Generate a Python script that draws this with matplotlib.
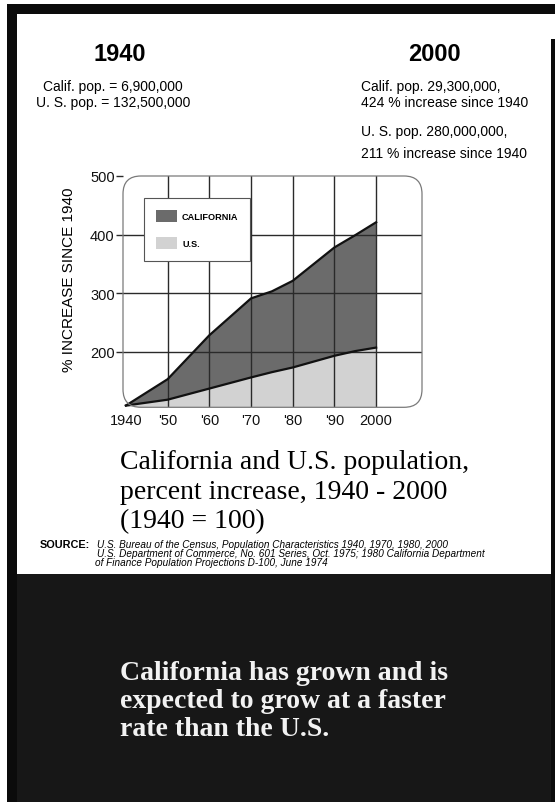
import matplotlib
matplotlib.use('Agg')
import matplotlib.pyplot as plt
from matplotlib.patches import Rectangle, FancyBboxPatch

# values (percent, 1940 = 100)
years = [1940, 1950, 1960, 1970, 1975, 1980, 1990, 1995, 2000]
calif = [108, 153, 228, 291, 303, 321, 378, 399, 421]
us = [108, 118, 137, 156, 165, 173, 193, 201, 207]

tick_years = [1940, 1950, 1960, 1970, 1980, 1990, 2000]
tick_labels = ['1940', "'50", "'60", "'70", "'80", "'90", '2000']
y_ticks = [200, 300, 400, 500]

header_left = ['Calif. pop. = 6,900,000', 'U. S. pop. = 132,500,000']
header_right = ['Calif. pop. 29,300,000,', '424 % increase since 1940',
                'U. S. pop. 280,000,000,', '211 % increase since 1940']
caption = ['California and U.S. population,', 'percent increase, 1940 - 2000', '(1940 = 100)']
source = ['U.S. Bureau of the Census, Population Characteristics 1940, 1970, 1980, 2000',
          'U.S. Department of Commerce, No. 601 Series, Oct. 1975; 1980 California Department',
          'of Finance Population Projections D-100, June 1974']
message = ['California has grown and is', 'expected to grow at a faster', 'rate than the U.S.']

W, H = 555, 803
fig = plt.figure(figsize=(W / 100, H / 100), dpi=100)
fig.patch.set_facecolor('white')


def fx(x):
    return x / W


def fy(y):
    return 1 - y / H


def rect(x0, y0, x1, y1, color):
    fig.add_artist(Rectangle((fx(x0), fy(y1)), fx(x1) - fx(x0), fy(y0) - fy(y1),
                             transform=fig.transFigure, facecolor=color,
                             edgecolor='none', zorder=-5))


# frame, white panel and dark lower block
rect(7, 5, 555, 803, '#0b0b0b')
rect(17, 15, 551, 575, 'white')
rect(551, 15, 555, 40, 'white')
rect(17, 575, 551, 803, '#171717')

sans = 'Liberation Sans'
serif = 'Liberation Serif'

# header
fig.text(fx(120), fy(61), '1940', ha='center', va='baseline', fontsize=17,
         weight='bold', family=sans)
fig.text(fx(434), fy(61), '2000', ha='center', va='baseline', fontsize=17,
         weight='bold', family=sans)
for txt, yb in zip(header_left, [91, 107]):
    fig.text(fx(113), fy(yb), txt, ha='center', va='baseline', fontsize=10, family=sans)
for txt, yb in zip(header_right, [91, 107, 136, 158]):
    fig.text(fx(361), fy(yb), txt, ha='left', va='baseline', fontsize=10, family=sans)

# chart
ax = fig.add_axes([fx(123), fy(408.3), fx(422) - fx(123), fy(177) - fy(408.3)])
ax.patch.set_visible(False)
ax.fill_between(years, 105, us, facecolor='#d2d2d2', edgecolor='none', label='U.S.', zorder=1)
ax.fill_between(years, us, calif, facecolor='#6b6b6b', edgecolor='none', label='CALIFORNIA', zorder=1)
ax.plot(years, calif, color='#111111', lw=1.6, zorder=3)
ax.plot(years, us, color='#111111', lw=1.6, zorder=3)

ax.set_xlim(1939.3, 2011)
ax.set_ylim(105, 500)
ax.set_xticks(tick_years)
ax.set_xticklabels(tick_labels)
ax.set_yticks(y_ticks)
for s in ax.spines.values():
    s.set_visible(False)
ax.set_axisbelow(False)
ax.grid(True, color='#2a2a2a', lw=1.0)
ax.get_xgridlines()[0].set_visible(False)
ax.get_ygridlines()[-1].set_visible(False)
ax.tick_params(axis='x', length=0, pad=4, labelsize=10.5, colors='#111111')
ax.tick_params(axis='y', length=5, width=1, color='#2a2a2a', pad=1, labelsize=10.5,
               labelcolor='#111111')
for lab in ax.get_xticklabels() + ax.get_yticklabels():
    lab.set_family(sans)

box = FancyBboxPatch((0, 0), 1, 1, boxstyle='round,pad=0,rounding_size=0.06',
                     mutation_aspect=299 / 231.3, transform=ax.transAxes,
                     facecolor='none', edgecolor='#7a7a7a', lw=0.9, clip_on=False, zorder=4)
ax.add_patch(box)

handles, labels = ax.get_legend_handles_labels()
leg = ax.legend(handles[::-1], labels[::-1], loc='upper left',
                bbox_to_anchor=(fx(144), fy(199)), bbox_transform=fig.transFigure,
                borderaxespad=0, fancybox=False, framealpha=1, edgecolor='#555555',
                handlelength=2.3, handleheight=1.65, handletextpad=0.55,
                labelspacing=1.65, borderpad=1.3,
                prop={'family': sans, 'weight': 'bold', 'size': 6.6})
leg.get_frame().set_linewidth(0.8)
leg.set_zorder(6)

fig.text(fx(69), fy(280), '% INCREASE SINCE 1940', rotation=90, ha='center', va='center',
         fontsize=11, family=sans)

# caption and source
for txt, yb in zip(caption, [469, 499, 528]):
    fig.text(fx(120), fy(yb), txt, ha='left', va='baseline', fontsize=20, family=serif)
fig.text(fx(40), fy(548), 'SOURCE:', ha='left', va='baseline', fontsize=7.8,
         weight='bold', family=sans)
for txt, yb, x0 in zip(source, [548, 557.5, 566.5], [97, 97, 95]):
    fig.text(fx(x0), fy(yb), txt, ha='left', va='baseline', fontsize=7.2,
             style='italic', family=sans)

# message on the dark block
for txt, yb in zip(message, [680, 708, 736]):
    fig.text(fx(120), fy(yb), txt, ha='left', va='baseline', fontsize=20,
             weight='bold', family=serif, color='#f2f2f2')

fig.savefig('out.png', dpi=100)
